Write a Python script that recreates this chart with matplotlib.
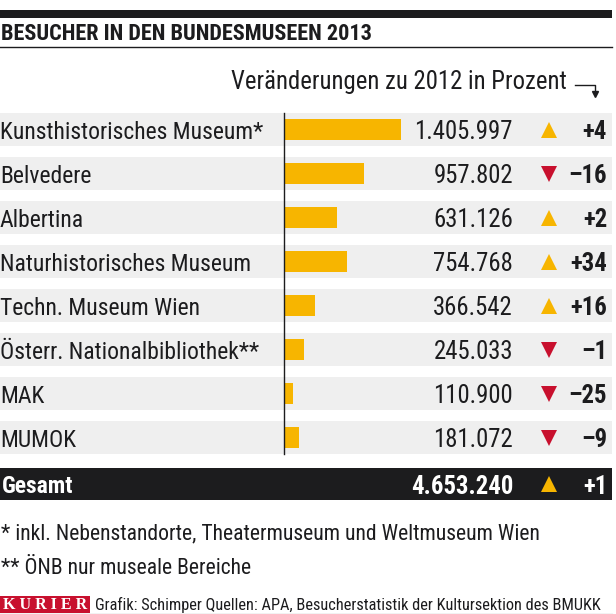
import matplotlib
matplotlib.use("Agg")
import matplotlib.pyplot as plt
from matplotlib.patches import Rectangle

# data
museums = [
    "Kunsthistorisches Museum*",
    "Belvedere",
    "Albertina",
    "Naturhistorisches Museum",
    "Techn. Museum Wien",
    "Österr. Nationalbibliothek**",
    "MAK",
    "MUMOK",
]
visitors = [1405997, 957802, 631126, 754768, 366542, 245033, 110900, 181072]
change_pct = [4, -16, 2, 34, 16, -1, -25, -9]
total_visitors = 4653240
total_change = 1

title = "BESUCHER IN DEN BUNDESMUSEEN 2013"
subtitle = "Veränderungen zu 2012 in Prozent"
notes = [
    "* inkl. Nebenstandorte, Theatermuseum und Weltmuseum Wien",
    "** ÖNB nur museale Bereiche",
]
credit = "Grafik: Schimper Quellen: APA, Besucherstatistik der Kultursektion des BMUKK"

FONT = ["Roboto Condensed", "Roboto", "DejaVu Sans"]
plt.rcParams["font.family"] = FONT

BAR = "#f7b500"
GREY = "#efefef"
DARK = "#1c1c1e"
RED = "#c8102e"

W, H = 616, 614
FS = 17
FS_NUM = 17.8


def fmt_num(v):
    return f"{v:,}".replace(",", ".")


def fmt_pct(v):
    return f"+{v}" if v > 0 else f"–{abs(v)}"


fig = plt.figure(figsize=(W / 100, H / 100), dpi=100)

# overlay axes in pixel coordinates for header / footer
bg = fig.add_axes([0, 0, 1, 1])
bg.set_xlim(0, W)
bg.set_ylim(H, 0)
bg.axis("off")

bg.add_patch(Rectangle((0, 10), 612, 8, color=DARK, lw=0))
bg.text(1, 34, title, fontsize=16, fontweight="bold", va="center", ha="left", color=DARK)
bg.plot([0, 612], [47, 47], color=DARK, lw=1)
bg.text(567, 82, subtitle, fontsize=17.8, va="center", ha="right", color=DARK)
bg.plot([575, 595, 595], [85, 85, 93], color=DARK, lw=1)
bg.plot([595], [94], marker="v", ms=4, color=DARK)

bg.text(1, 534, notes[0], fontsize=15.6, va="center", ha="left", color=DARK)
bg.text(1, 568, notes[1], fontsize=15.6, va="center", ha="left", color=DARK)

bg.add_patch(Rectangle((0, 596), 90, 17, color=RED, lw=0))
bg.text(45, 605, "K U R I E R", fontsize=11.5, fontweight="bold", family="Liberation Serif",
        color="white", ha="center", va="center")
bg.text(95, 605, credit, fontsize=11.8, va="center", ha="left", color=DARK)
bg.plot([0, 612], [613.5, 613.5], color=DARK, lw=0.8)

# bar axes: x=0 at pixel 284, scale ~83.2 px per million
px_per = 117.0 / 1405997
left_px, right_px = 0, 612
x0_px = 284
top_px = 107.5
n_rows = 9
ax = fig.add_axes([left_px / W, 1 - (top_px + 44 * n_rows) / H,
                   (right_px - left_px) / W, 44 * n_rows / H])
ax.set_xlim(-(x0_px - left_px) / px_per, (right_px - x0_px) / px_per)
ax.set_ylim(n_rows - 0.5, -0.5)
ax.axis("off")

ypos = list(range(len(museums)))
for y in ypos:
    ax.axhspan(y - 0.37, y + 0.37, color=GREY, lw=0, zorder=0)
ax.barh(ypos, visitors, height=0.47, color=BAR, zorder=2)
ax.plot([0, 0], [-0.37, len(museums) - 1 + 0.37], color=DARK, lw=1, zorder=3)

tr = ax.get_yaxis_transform()
dy = 0.06
for y, name, v, c in zip(ypos, museums, visitors, change_pct):
    ax.text(0.0, y + dy, name, transform=tr, fontsize=FS, va="center", ha="left", color=DARK)
    ax.text(513 / 612, y + dy, fmt_num(v), transform=tr, fontsize=FS_NUM, va="center", ha="right", color=DARK)
    ax.plot([549 / 612], [y], transform=tr, marker="^" if c > 0 else "v", ms=11.5,
            color=BAR if c > 0 else RED, mew=0)
    ax.text(607 / 612, y + dy, fmt_pct(c), transform=tr, fontsize=FS_NUM, fontweight="bold",
            va="center", ha="right", color=DARK)

# total row
yt = 8.06
ax.axhspan(yt - 0.37, yt + 0.37, color=DARK, lw=0, zorder=0)
ax.text(2 / 612, yt + dy, "Gesamt", transform=tr, fontsize=FS, fontweight="bold",
        va="center", ha="left", color="white")
ax.text(513 / 612, yt + dy, fmt_num(total_visitors), transform=tr, fontsize=FS_NUM, fontweight="bold",
        va="center", ha="right", color="white")
ax.plot([549 / 612], [yt], transform=tr, marker="^" if total_change > 0 else "v", ms=11.5,
        color=BAR if total_change > 0 else RED, mew=0)
ax.text(607 / 612, yt + dy, fmt_pct(total_change), transform=tr, fontsize=FS_NUM, fontweight="bold",
        va="center", ha="right", color="white")

fig.savefig("out.png", dpi=100)
